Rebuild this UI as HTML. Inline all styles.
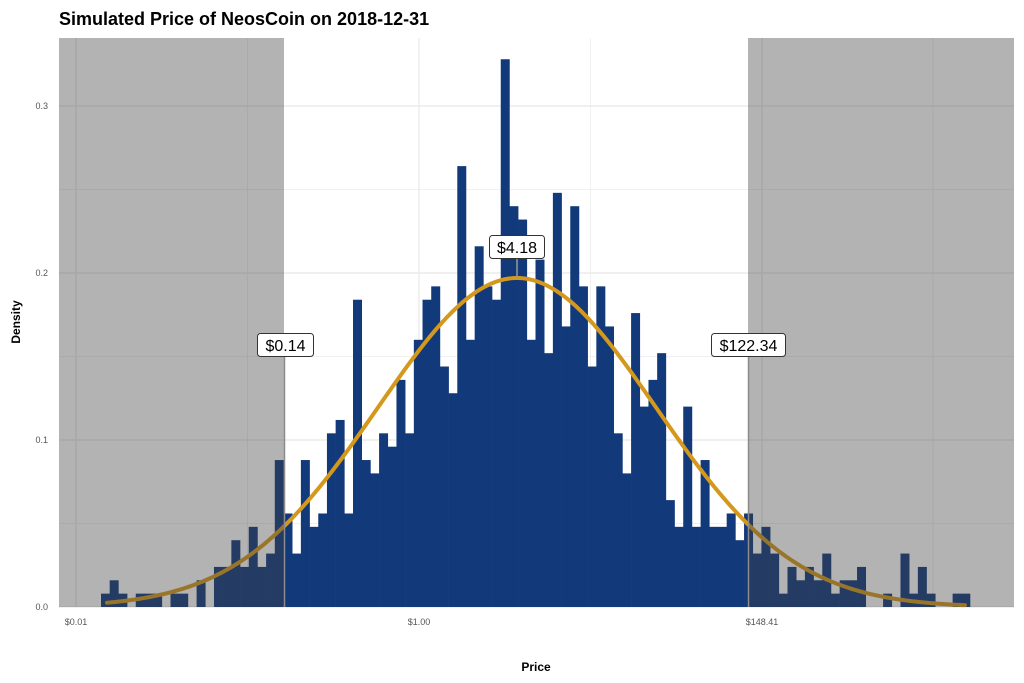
<!DOCTYPE html>
<html><head><meta charset="utf-8"><style>
html,body{margin:0;padding:0;background:#fff;}
svg{display:block;font-family:"Liberation Sans",sans-serif;}
</style></head><body>
<svg id="s" width="1024" height="683" viewBox="0 0 1024 683" xmlns="http://www.w3.org/2000/svg">
<text x="59" y="25" font-size="18" font-weight="bold" fill="#000">Simulated Price of NeosCoin on 2018-12-31</text>
<g id="grid" stroke="#ebebeb"></g>
<g id="bars" fill="#12397a"></g>
<path id="curve" fill="none" stroke="#d4981c" stroke-width="4" stroke-linecap="round"/>
<rect x="59" y="38" width="225" height="569" fill="rgb(64,64,64)" fill-opacity="0.4"/>
<rect x="748" y="38" width="266" height="569" fill="rgb(64,64,64)" fill-opacity="0.4"/>
<line x1="284.5" y1="356" x2="284.5" y2="607" stroke="#8c8c8c" stroke-width="1.5"/>
<line x1="748.5" y1="356" x2="748.5" y2="607" stroke="#8c8c8c" stroke-width="1.5"/>
<line x1="517" y1="259" x2="517" y2="278" stroke="#999" stroke-width="1.5"/>
<rect x="257.5" y="333.5" width="56" height="23" rx="3" fill="#fff" stroke="#333" stroke-width="1"/>
<text x="285.5" y="351" font-size="16" text-anchor="middle" fill="#000">$0.14</text>
<rect x="489.5" y="235.5" width="55" height="23" rx="3" fill="#fff" stroke="#333" stroke-width="1"/>
<text x="517" y="253" font-size="16" text-anchor="middle" fill="#000">$4.18</text>
<rect x="711.5" y="333.5" width="74" height="23" rx="3" fill="#fff" stroke="#333" stroke-width="1"/>
<text x="748.5" y="351" font-size="16" text-anchor="middle" fill="#000">$122.34</text>
<g font-size="9" fill="#555" text-anchor="end">
<text x="48" y="610">0.0</text><text x="48" y="443">0.1</text><text x="48" y="276">0.2</text><text x="48" y="109">0.3</text>
</g>
<g font-size="9" fill="#555" text-anchor="middle">
<text x="76" y="625">$0.01</text><text x="419" y="625">$1.00</text><text x="762" y="625">$148.41</text>
</g>
<text x="536" y="671" font-size="12" font-weight="bold" text-anchor="middle" fill="#000">Price</text>
<text x="0" y="0" font-size="12" font-weight="bold" text-anchor="middle" fill="#000" transform="translate(20,322) rotate(-90)">Density</text>
</svg>
<script>
var NS="http://www.w3.org/2000/svg";
function el(t,a,p){var e=document.createElementNS(NS,t);for(var k in a)e.setAttribute(k,a[k]);document.getElementById(p).appendChild(e);}
[[607,1.4],[523.5,0.7],[440,1.4],[356.5,0.7],[273,1.4],[189.5,0.7],[106,1.4]].forEach(function(g){el("line",{x1:59,x2:1014,y1:g[0],y2:g[0],"stroke-width":g[1]},"grid");});
[[76,1.4],[247.5,0.7],[419,1.4],[590.5,0.7],[762,1.4],[933,0.7]].forEach(function(g){el("line",{y1:38,y2:607,x1:g[0],x2:g[0],"stroke-width":g[1]},"grid");});
var c=[1,2,1,0,1,1,1,0,1,1,0,2,0,3,3,5,3,6,3,4,11,
7,4,11,6,7,13,14,7,23,11,10,13,12,17,13,20,23,24,18,16,
33,
20,27,24,23,41,30,29,20,26,19,31,21,30,24,18,24,21,13,10,
22,15,17,19,8,6,15,6,11,6,6,7,5,7,4,6,4,1,3,2,3,2,4,1,2,2,3,0,0,1,0,4,1,3,1,0,0,1,1];
var w=8.69,u=13.36;
c.forEach(function(n,i){if(!n)return;var x=101+i*w;el("rect",{x:x.toFixed(2),y:(607-n*u).toFixed(2),width:(w+0.3).toFixed(2),height:(n*u).toFixed(2)},"bars");});
var d="",sd=139,mu=517,pk=329;
for(var x=107;x<=965;x+=2){var y=607-pk*Math.exp(-0.5*Math.pow((x-mu)/sd,2));d+=(d?"L":"M")+x+","+y.toFixed(2);}
document.getElementById("curve").setAttribute("d",d);
</script>
</body></html>
